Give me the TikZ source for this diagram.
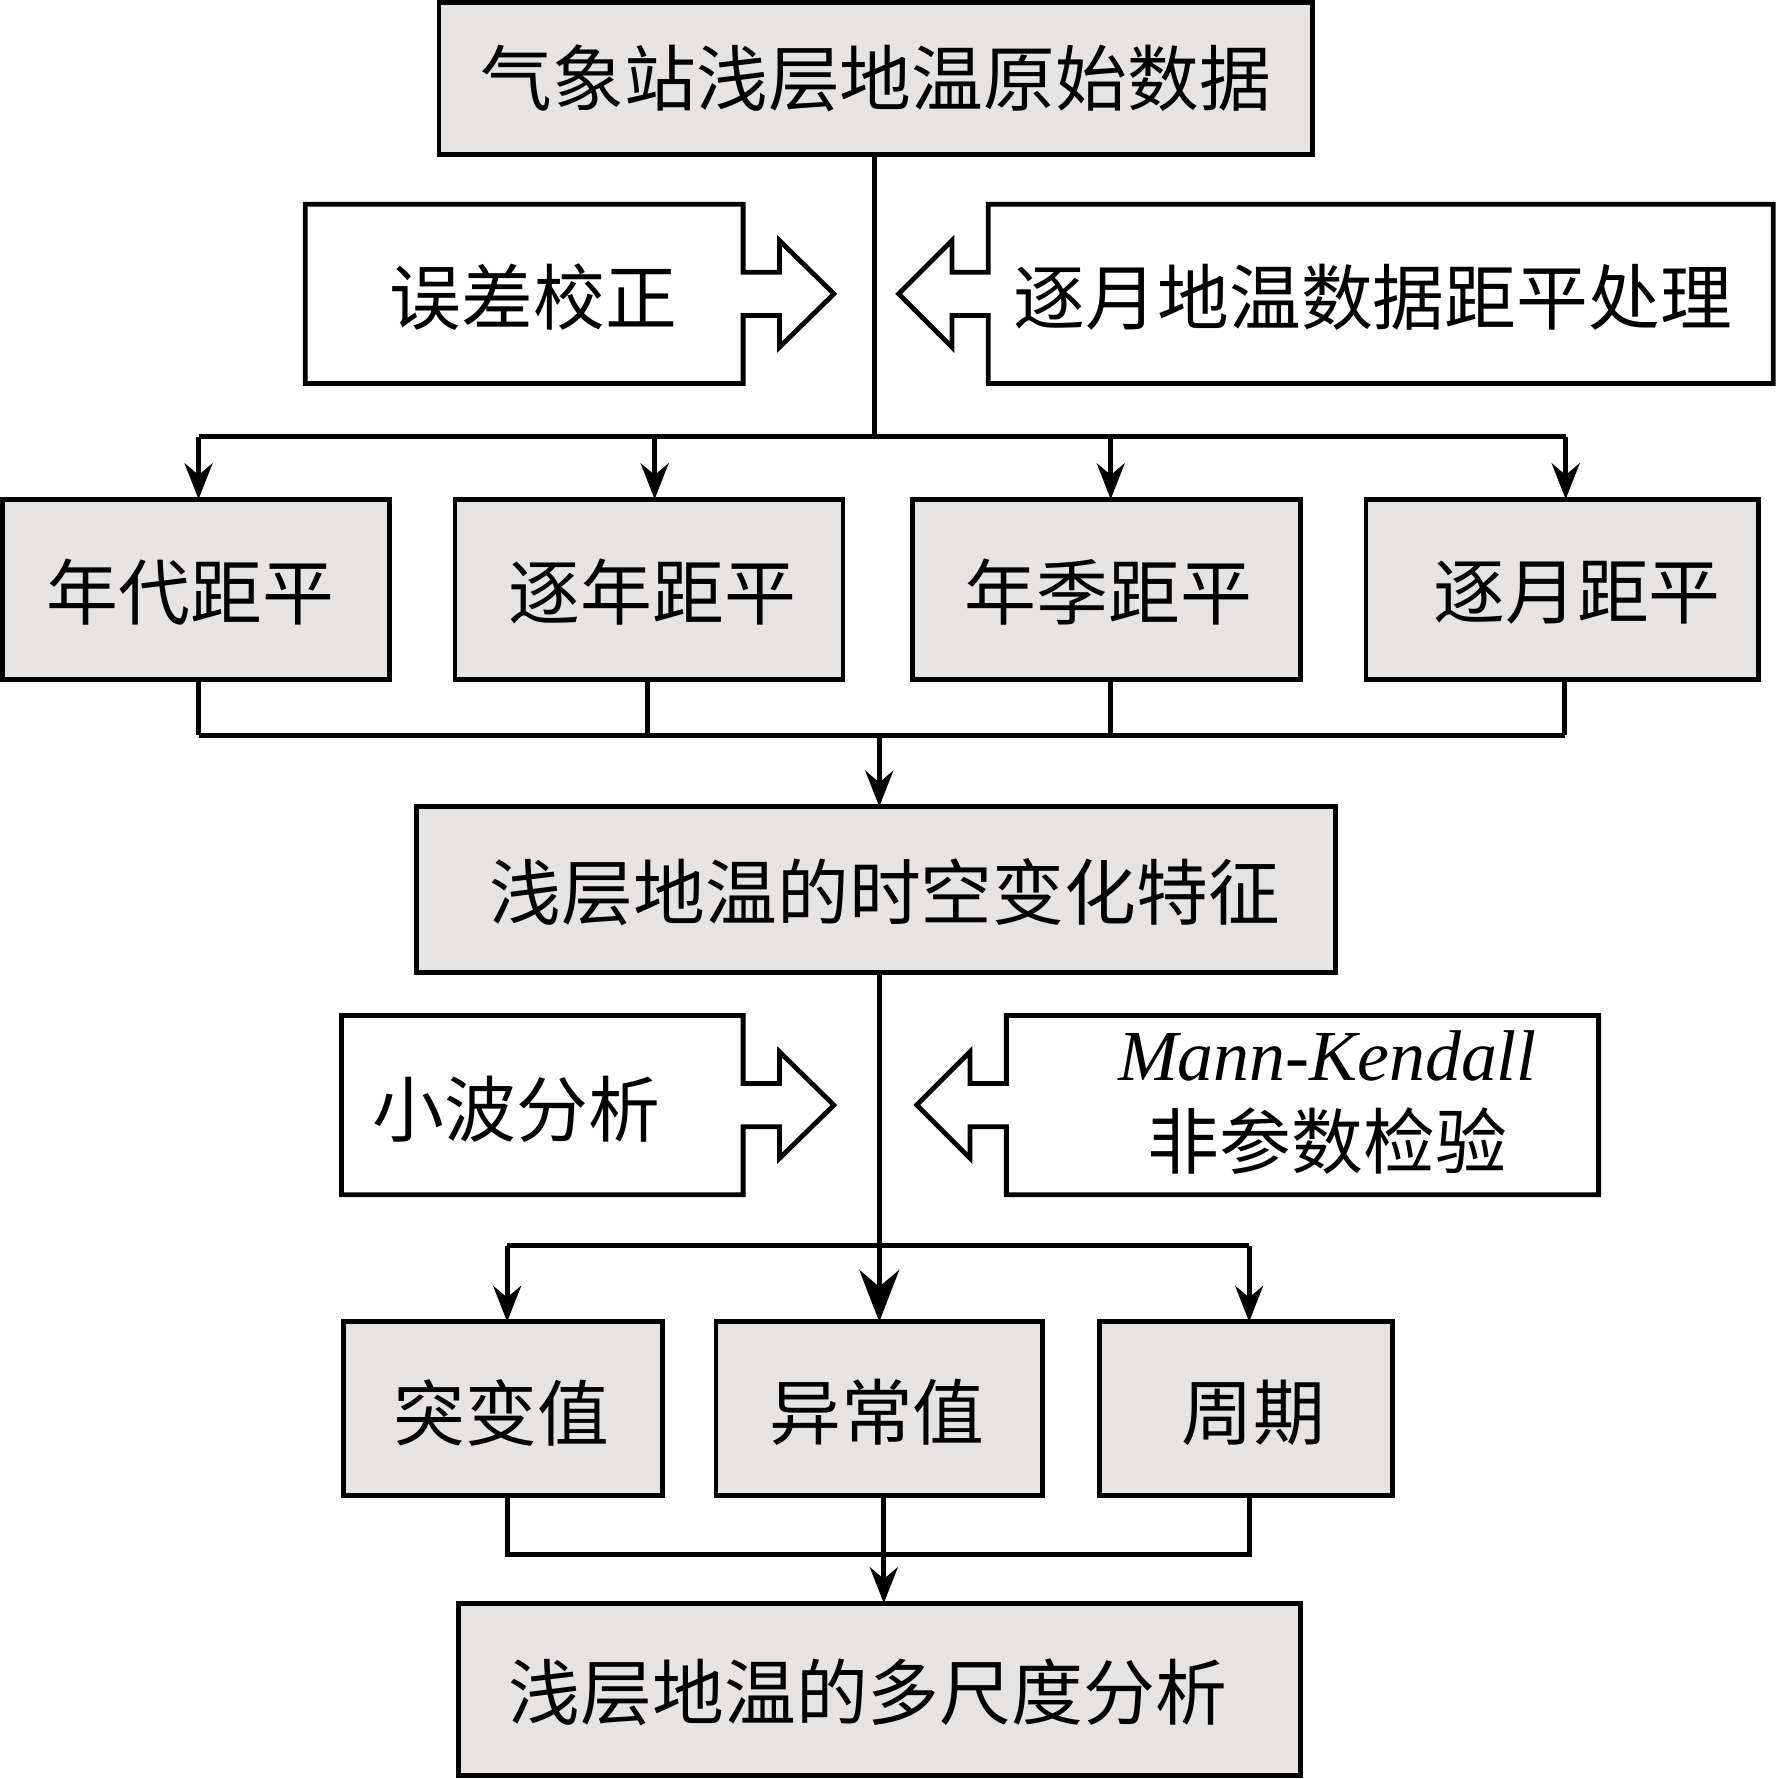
\documentclass[tikz,border=0pt]{standalone}
\usepackage{fontspec}
\setmainfont{Liberation Serif}
\newfontfamily\cjk{Noto Sans CJK SC}
\usetikzlibrary{arrows.meta}
\definecolor{boxgray}{HTML}{E6E3E3}
\begin{document}
\begin{tikzpicture}[x=0.01cm,y=-0.01cm,line width=1.2pt,
  box/.style={draw,fill=boxgray},
  wbox/.style={draw,fill=white},
  lbl/.style={font=\cjk\fontsize{18}{22}\selectfont},
  arr/.style={-{Stealth[length=9pt,width=7pt]}},
  bigarr/.style={-{Stealth[length=13pt,width=10pt]}}]
\useasboundingbox (0,0) rectangle (1566,1568);
% top box
\draw[box] (387,2) rectangle (1157,136);
\node[lbl] (top) at (772,69) {气象站浅层地温原始数据};
% arrow boxes row 1
\draw[wbox] (269,180)--(655,180)--(655,240)--(687,240)--(687,212)--(735,259)--(687,306)--(687,278)--(655,278)--(655,338)--(269,338)--cycle;
\node[lbl] (wc) at (470,262) {误差校正};
\draw[wbox] (1563,180)--(871,180)--(871,240)--(839,240)--(839,212)--(792,259)--(839,306)--(839,278)--(871,278)--(871,338)--(1563,338)--cycle;
\node[lbl] (zy) at (1210,262) {逐月地温数据距平处理};
% row of boxes
\draw[box] (2,440) rectangle (343,599);
\node[lbl] (b1) at (168,522) {年代距平};
\draw[box] (401,440) rectangle (743,599);
\node[lbl] (b2) at (575,522) {逐年距平};
\draw[box] (804,440) rectangle (1146,599);
\node[lbl] (b3) at (977,522) {年季距平};
\draw[box] (1204,440) rectangle (1550,599);
\node[lbl] (b4) at (1390,522) {逐月距平};
\coordinate (s1) at (771,136);
\coordinate (j1) at (771,385);
\draw (s1)--(j1);
\draw (175,385)--(1380,385);
\foreach \x in {175,577,979,1380} \draw[arr] (\x,385)--(\x,440);
\foreach \x in {175,571,979,1379} \draw (\x,599)--(\x,648);
\draw (175,648)--(1379,648);
% middle box
\draw[box] (367,711) rectangle (1177,857);
\node[lbl] (mid) at (780,786) {浅层地温的时空变化特征};
\draw[arr] (775,648)--(775,711);
% arrow boxes row 2
\draw[wbox] (301,895)--(655,895)--(655,955)--(687,955)--(687,927)--(735,974)--(687,1021)--(687,993)--(655,993)--(655,1053)--(301,1053)--cycle;
\node[lbl] (xb) at (455,978) {小波分析};
\draw[wbox] (1409,895)--(887,895)--(887,955)--(855,955)--(855,927)--(808,974)--(855,1021)--(855,993)--(887,993)--(887,1053)--(1409,1053)--cycle;
\node[lbl,align=center] (mk) at (1170,972) {{\fontspec{Liberation Serif}\itshape Mann-Kendall}\\[0pt]非参数检验};
\draw[bigarr] (775,857)--(775,1165);
\draw (447,1098)--(1101,1098);
\draw[arr] (447,1098)--(447,1165);
\draw[arr] (1101,1098)--(1101,1165);
% bottom row
\draw[box] (303,1165) rectangle (584,1318);
\node[lbl] (c1) at (442,1245) {突变值};
\draw[box] (631,1165) rectangle (919,1318);
\node[lbl] (c2) at (773,1245) {异常值};
\draw[box] (969,1165) rectangle (1227,1318);
\node[lbl] (c3) at (1105,1245) {周期};
\draw (447,1318)--(447,1370)--(1101,1370)--(1101,1318);
\draw[arr] (779,1318)--(779,1413);
\draw[box] (404,1413) rectangle (1146,1565);
\node[lbl] (bot) at (765,1492) {浅层地温的多尺度分析};
\end{tikzpicture}
\end{document}
